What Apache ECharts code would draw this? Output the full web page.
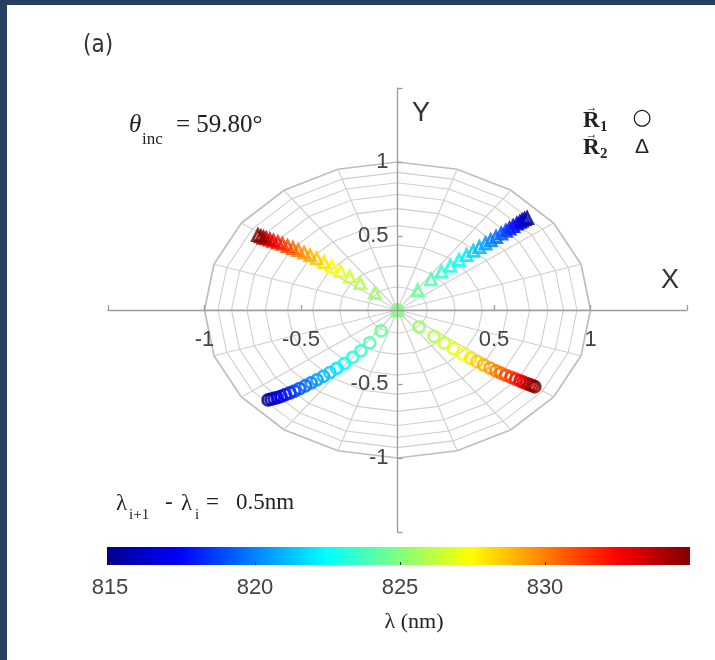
<!DOCTYPE html>
<html>
<head>
<meta charset="utf-8">
<script src="https://cdn.jsdelivr.net/npm/echarts@6/dist/echarts.min.js"></script>
<style>
  html, body { margin: 0; padding: 0; background: #ffffff; }
  #chart { width: 715px; height: 660px; }
</style>
</head>
<body>
<div id="chart"></div>
<script>
// Wavelength sweep, 0.5 nm step
const wavelength = [815, 815.5, 816, 816.5, 817, 817.5, 818, 818.5, 819, 819.5,
  820, 820.5, 821, 821.5, 822, 822.5, 823, 823.5, 824, 824.5,
  825, 825.5, 826, 826.5, 827, 827.5, 828, 828.5, 829, 829.5,
  830, 830.5, 831, 831.5, 832, 832.5, 833, 833.5, 834, 834.5, 835];

// R1 (circles): normalised radius and azimuth in degrees
const r1Radius = [0.905, 0.89, 0.875, 0.86, 0.84, 0.815, 0.79, 0.765, 0.735, 0.70,
  0.665, 0.63, 0.59, 0.55, 0.505, 0.455, 0.395, 0.335, 0.265, 0.165,
  0,
  0.16, 0.26, 0.33, 0.39, 0.45, 0.50, 0.54, 0.58, 0.62, 0.655,
  0.685, 0.715, 0.745, 0.77, 0.795, 0.815, 0.835, 0.85, 0.865, 0.88];
const r1Azimuth = [-137.8, -137.4, -137.0, -136.5, -136.0, -135.5, -134.9, -134.3, -133.7, -133.0,
  -132.3, -131.5, -130.6, -129.6, -128.5, -127.3, -126.0, -124.5, -123.0, -121.0,
  0,
  -45.5, -43.5, -42.6, -42.0, -41.4, -40.8, -40.3, -39.8, -39.3, -38.9,
  -38.5, -38.1, -37.7, -37.3, -37.0, -36.8, -36.6, -36.4, -36.2, -36.1];

// R2 (triangles): normalised radius and azimuth in degrees
const r2Radius = [0.915, 0.90, 0.885, 0.87, 0.85, 0.825, 0.80, 0.775, 0.745, 0.71,
  0.675, 0.64, 0.60, 0.56, 0.515, 0.465, 0.405, 0.345, 0.27, 0.17,
  0,
  0.165, 0.265, 0.335, 0.395, 0.45, 0.50, 0.545, 0.585, 0.62, 0.655,
  0.685, 0.715, 0.745, 0.77, 0.795, 0.815, 0.835, 0.85, 0.865, 0.883];
const r2Azimuth = [42.8, 43.0, 43.1, 43.2, 43.3, 43.4, 43.5, 43.6, 43.8, 44.0,
  44.3, 44.6, 45.0, 45.5, 46.0, 46.7, 47.5, 48.6, 50.0, 52.0,
  0,
  135.5, 136.8, 137.6, 138.3, 139.0, 139.6, 140.2, 140.8, 141.3, 141.8,
  142.3, 142.8, 143.2, 143.6, 144.0, 144.3, 144.6, 144.8, 144.9, 145.0];

// Polar guide grid
const ringRadii = [0.155, 0.30, 0.44, 0.57, 0.685, 0.78, 0.86, 0.93, 1.0];
const spokeAngles = [0, 18, 36, 54, 72, 90, 108, 126, 144, 162, 180, 198, 216, 234, 252, 270, 288, 306, 324, 342];

// Axis tick labels
const axisTickValues = [-1, -0.5, 0.5, 1];
const axisTickText = ['-1', '-0.5', '0.5', '1'];
const colorbarTicks = [815, 820, 825, 830];
const lambdaRange = [815, 835];

// Jet colormap stops
const jetStops = [
  [0, [0, 0, 143]], [0.125, [0, 0, 255]], [0.375, [0, 255, 255]],
  [0.625, [255, 255, 0]], [0.875, [255, 0, 0]], [1, [128, 0, 0]]
];

function jet(w) {
  const t = Math.min(1, Math.max(0, (w - lambdaRange[0]) / (lambdaRange[1] - lambdaRange[0])));
  for (let k = 1; k < jetStops.length; k++) {
    const [t1, c1] = jetStops[k];
    const [t0, c0] = jetStops[k - 1];
    if (t <= t1) {
      const f = (t - t0) / (t1 - t0);
      const c = c0.map((v, j) => Math.round(v + (c1[j] - v) * f));
      return 'rgb(' + c.join(',') + ')';
    }
  }
  return 'rgb(128,0,0)';
}

const rad = Math.PI / 180;
function points(radius, azimuth) {
  return wavelength.map((w, i) => ({
    value: [radius[i] * Math.cos(azimuth[i] * rad), radius[i] * Math.sin(azimuth[i] * rad), w],
    itemStyle: { color: 'rgba(0,0,0,0)', borderColor: jet(w), borderWidth: 2.8, opacity: 0.85 }
  }));
}

function tickLabel(v) {
  const k = axisTickValues.findIndex(t => Math.abs(t - v) < 1e-9);
  return k >= 0 ? axisTickText[k] : '';
}

const axisColor = '#9c9c9c';
const sans = '"Liberation Sans", Arial, sans-serif';
const serif = '"Liberation Serif", "Times New Roman", serif';

// main plot box: x and y both span [-1.5, 1.5]
const plot = { left: 108, top: 88, width: 579, height: 444 };

function txt(text, x, y, font, extra) {
  return {
    type: 'text', x: x, y: y, z: 100, silent: true,
    style: Object.assign({ text: text, font: font, fill: '#222', align: 'left', verticalAlign: 'middle' }, extra || {})
  };
}

const chart = echarts.init(document.getElementById('chart'), null, { renderer: 'canvas' });

chart.setOption({
  backgroundColor: '#ffffff',
  animation: false,
  grid: [
    plot,
    { left: 110, top: 547, width: 580, height: 18 }
  ],
  xAxis: [
    {
      // crosses the plot through y = 0
      gridIndex: 0, type: 'value', min: -1.5, max: 1.5, interval: 0.5, z: 5,
      offset: -plot.height / 2,
      axisLine: { onZero: false, lineStyle: { color: axisColor, width: 1.3 } },
      axisTick: { inside: true, length: 5, lineStyle: { color: axisColor, width: 1.3 } },
      axisLabel: { formatter: tickLabel, fontSize: 22, fontFamily: sans, color: '#444', margin: 19 },
      splitLine: { show: false }
    },
    {
      gridIndex: 1, type: 'value', min: lambdaRange[0], max: lambdaRange[1], interval: 5, z: 10,
      axisLine: { show: false },
      axisTick: { inside: true, length: 3, lineStyle: { color: '#333', width: 1 } },
      axisLabel: {
        showMaxLabel: false, fontSize: 22, fontFamily: sans, color: '#444', margin: 12,
        formatter: v => colorbarTicks.indexOf(v) >= 0 ? String(v) : ''
      },
      splitLine: { show: false }
    }
  ],
  yAxis: [
    {
      // crosses the plot through x = 0
      gridIndex: 0, type: 'value', min: -1.5, max: 1.5, interval: 0.5, z: 5,
      offset: -plot.width / 2,
      axisLine: { onZero: false, lineStyle: { color: axisColor, width: 1.3 } },
      axisTick: { inside: true, length: 5, lineStyle: { color: axisColor, width: 1.3 } },
      axisLabel: { formatter: tickLabel, fontSize: 22, fontFamily: sans, color: '#444', margin: 9, padding: [10, 0, 0, 0] },
      splitLine: { show: false }
    },
    { gridIndex: 1, type: 'value', min: 0, max: 1, show: false }
  ],
  series: [
    {
      // concentric rings of the guide grid
      type: 'custom', xAxisIndex: 0, yAxisIndex: 0, silent: true, z: 1,
      data: ringRadii.map(r => [r, 0]),
      renderItem: function (params, api) {
        const r = api.value(0);
        const pts = spokeAngles.concat([spokeAngles[0]]).map(a =>
          api.coord([r * Math.cos(a * rad), r * Math.sin(a * rad)]));
        const outer = r >= 1;
        return {
          type: 'polyline', shape: { points: pts },
          style: { stroke: outer ? '#bdbdbd' : '#cfcfcf', lineWidth: outer ? 1.7 : 1.1, fill: null }
        };
      }
    },
    {
      // radial spokes of the guide grid
      type: 'custom', xAxisIndex: 0, yAxisIndex: 0, silent: true, z: 1,
      data: spokeAngles.map(a => [a, 0]),
      renderItem: function (params, api) {
        const a = api.value(0) * rad;
        const p0 = api.coord([0, 0]);
        const p1 = api.coord([Math.cos(a), Math.sin(a)]);
        return {
          type: 'line', shape: { x1: p0[0], y1: p0[1], x2: p1[0], y2: p1[1] },
          style: { stroke: '#cfcfcf', lineWidth: 1.1 }
        };
      }
    },
    {
      name: 'R1', type: 'scatter', xAxisIndex: 0, yAxisIndex: 0, z: 3,
      symbol: 'circle', symbolSize: 11, silent: true,
      data: points(r1Radius, r1Azimuth)
    },
    {
      name: 'R2', type: 'scatter', xAxisIndex: 0, yAxisIndex: 0, z: 3,
      symbol: 'triangle', symbolSize: 11, silent: true,
      data: points(r2Radius, r2Azimuth)
    },
    {
      // colour bar for wavelength
      type: 'custom', xAxisIndex: 1, yAxisIndex: 1, silent: true, z: 2,
      data: [[lambdaRange[0], lambdaRange[1]]],
      renderItem: function (params, api) {
        const p0 = api.coord([api.value(0), 1]);
        const p1 = api.coord([api.value(1), 0]);
        return {
          type: 'rect',
          shape: { x: p0[0] - 3, y: p0[1], width: p1[0] - p0[0] + 3, height: p1[1] - p0[1] },
          style: {
            fill: new echarts.graphic.LinearGradient(0, 0, 1, 0,
              jetStops.map(s => ({ offset: s[0], color: 'rgb(' + s[1].join(',') + ')' })))
          }
        };
      }
    }
  ],
  graphic: [
    // navy frame edges
    { type: 'rect', shape: { x: 0, y: 0, width: 7, height: 660 }, style: { fill: '#243f61' }, z: 100, silent: true },
    { type: 'rect', shape: { x: 0, y: 0, width: 715, height: 5 }, style: { fill: '#243f61' }, z: 100, silent: true },

    txt('(a)', 83, 46, '24px "Liberation Sans Narrow", "DejaVu Sans Condensed", sans-serif', { fill: '#333' }),

    txt('θ', 129, 125, 'italic 25px ' + serif),
    txt('inc', 142, 140, '17px ' + serif),
    txt('= 59.80°', 176, 125, '25px ' + serif),

    txt('Y', 421, 114, '27px ' + sans, { align: 'center', fill: '#333' }),
    txt('X', 670, 281, '27px ' + sans, { align: 'center', fill: '#333' }),

    txt('→', 591.5, 108, '12px ' + serif, { align: 'center' }),
    txt('R', 583, 121, 'bold 23px ' + serif),
    txt('1', 600, 127, 'bold 15px ' + serif),
    txt('○', 642, 118, '22px "DejaVu Sans", sans-serif', { align: 'center' }),
    txt('→', 591.5, 135, '12px ' + serif, { align: 'center' }),
    txt('R', 583, 148, 'bold 23px ' + serif),
    txt('2', 600, 154, 'bold 15px ' + serif),
    txt('Δ', 642, 147, '21px ' + sans, { align: 'center' }),

    txt('λ', 116, 504, '23px ' + serif),
    txt('i+1', 129, 515, '15px ' + serif),
    txt('-', 165, 503, '23px ' + serif),
    txt('λ', 181, 504, '23px ' + serif),
    txt('i', 195, 515, '15px ' + serif),
    txt('=', 206, 503, '23px ' + serif),
    txt('0.5nm', 236, 503, '23px ' + serif),

    txt('λ (nm)', 414, 622, '22px ' + serif, { align: 'center' })
  ]
});
</script>
</body>
</html>
